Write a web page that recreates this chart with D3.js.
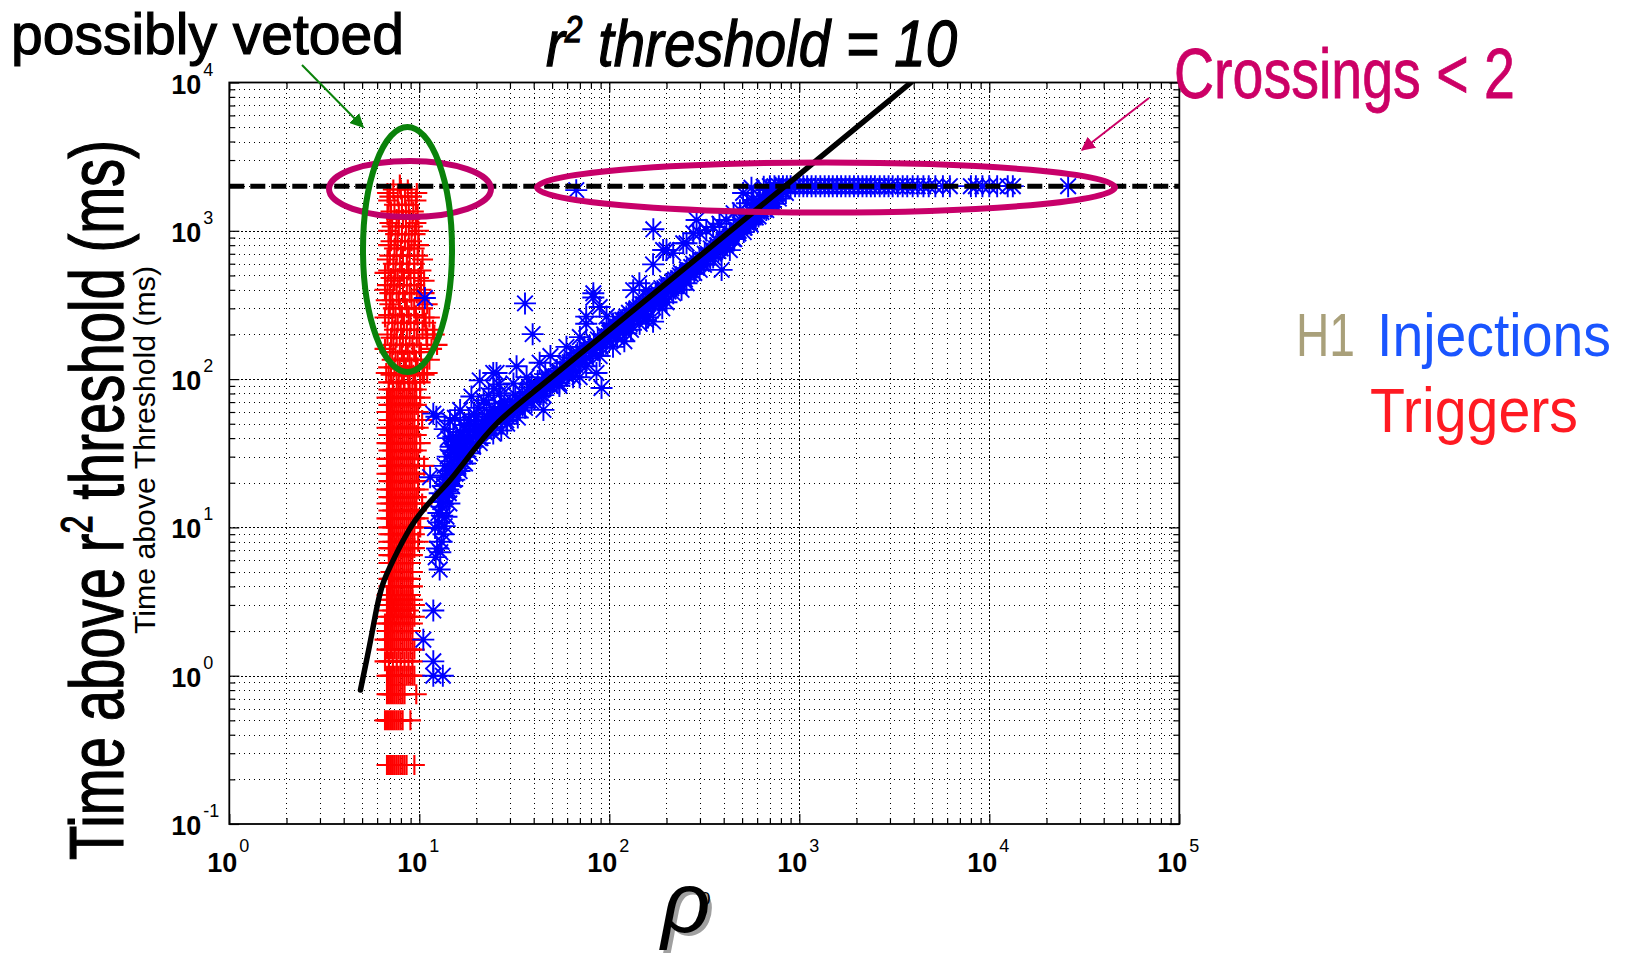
<!DOCTYPE html>
<html>
<head>
<meta charset="utf-8">
<script src="https://cdn.jsdelivr.net/npm/d3@7"></script>
<style>
  body { margin: 0; background: #fff; }
  text { font-family: "Liberation Sans Narrow", "Liberation Sans", Arial, sans-serif; }
</style>
</head>
<body>
<div id="chart"></div>
<script>
var svgWidth = 1628;
var svgHeight = 957;

var margin = { top: 82.5, right: 449, bottom: 133, left: 229.3 };
var width = 950;
var height = 741.5;

// ---- data (rho, time above threshold in ms) ----
var xExponents = [0, 1, 2, 3, 4, 5];
var yExponents = [-1, 0, 1, 2, 3, 4];
var saturationTime = 2000;

// black expected curve
var curveRho  = [4.9, 5.3, 5.6, 6.0, 6.4, 7.0, 7.8, 8.6, 9.5, 10.9, 12.5, 14.5, 18.5, 25.5, 40, 89, 300, 841, 3873];
var curveTime = [0.8, 1.3, 1.85, 3.0, 4.2, 5.4, 7.2, 9.1, 11.2, 14.0, 17.0, 20.5, 31, 52, 82, 190, 677, 2000, 10000];

// triggers: one time level per row, rho values of the triggers on that level
var triggerTime = [0.25, 0.5, 0.75, 1, 1.25, 1.5, 1.75, 2, 2.25, 2.5, 2.75, 3, 3.25, 3.5, 4, 4.5, 5, 5.75, 6.5, 7.25,
  8, 9, 10, 11.5, 13, 14.5, 16, 18, 20.5, 23, 26, 29, 33, 37, 42, 47, 53, 60, 67, 75, 85,
  95, 107, 120, 135, 152, 170, 190, 215, 240, 270, 300, 340, 380, 430, 480, 540, 600, 680, 760, 850, 950,
  1070, 1200, 1350, 1500, 1700, 1900, 2050,
  110, 160, 200, 260, 320, 400, 460, 520, 640, 800, 1000, 1130, 1280, 1600, 1800];
var triggerRho = [
  [6.76, 6.92, 7.09, 7.26, 7.43, 7.61, 7.79, 7.98, 8.17, 8.36, 8.57, 9.42],
  [6.6, 6.76, 6.92, 7.09, 7.26, 7.43, 7.61, 7.79, 7.98, 8.17, 8.98],
  [6.76, 6.92, 7.09, 7.26, 7.43, 7.61, 7.79, 7.98, 8.17, 8.36, 9.64],
  [6.76, 6.92, 7.09, 7.26, 7.43, 7.61, 7.79, 7.98, 8.17, 8.36, 8.57, 8.77, 8.98, 9.2, 9.42],
  [6.6, 6.92, 7.26, 7.61, 7.98, 8.36, 8.77, 9.2],
  [6.76, 7.09, 7.43, 7.79, 8.17, 8.57, 8.98, 9.42],
  [6.6, 6.92, 7.26, 7.61, 7.98, 8.36, 8.77, 9.2],
  [6.76, 7.09, 7.43, 7.79, 8.17, 8.57, 8.98],
  [6.6, 6.92, 7.26, 7.61, 7.98, 8.36, 8.77, 9.2],
  [6.76, 7.09, 7.43, 7.79, 8.17, 8.57, 8.98, 9.42],
  [6.92, 7.26, 7.61, 7.98, 8.36, 8.77],
  [6.76, 7.09, 7.43, 7.79, 8.17, 8.57, 8.98, 9.42],
  [6.92, 7.26, 7.61, 7.98, 8.36, 8.77, 9.2],
  [6.76, 7.09, 7.43, 7.79, 8.17, 8.57, 8.98],
  [6.92, 7.26, 7.61, 7.98, 8.36, 8.77, 9.2],
  [6.92, 7.09, 7.43, 7.79, 8.17, 8.57, 8.98],
  [7.09, 7.26, 7.61, 7.98, 8.36, 8.77, 9.2],
  [6.92, 7.09, 7.43, 7.79, 8.17, 8.57, 8.98],
  [6.92, 7.26, 7.61, 7.98, 8.36, 8.77, 9.2],
  [6.92, 7.09, 7.43, 7.79, 8.17, 8.57, 8.98, 9.42],
  [6.92, 7.26, 7.61, 7.98, 8.36, 8.77, 9.2, 9.87],
  [6.92, 7.09, 7.43, 7.79, 8.17, 8.57, 8.98, 9.42],
  [6.92, 7.26, 7.61, 7.98, 8.36, 8.77, 9.2, 10.11],
  [6.76, 7.09, 7.43, 7.79, 8.17, 8.57, 8.98, 9.42, 9.87],
  [6.92, 7.26, 7.61, 7.98, 8.36, 8.77, 9.2, 9.64],
  [6.76, 7.09, 7.43, 7.79, 8.17, 8.57, 8.98, 9.42, 10.35],
  [6.92, 7.26, 7.61, 7.98, 8.36, 8.77, 9.2, 9.64],
  [6.76, 7.09, 7.43, 7.79, 8.17, 8.57, 8.98, 9.42, 9.87],
  [6.92, 7.26, 7.61, 7.98, 8.36, 8.77, 9.2, 9.87],
  [6.76, 7.09, 7.43, 7.79, 8.17, 8.57, 8.98, 9.42, 9.64],
  [6.92, 7.26, 7.61, 7.98, 8.36, 8.77, 9.2, 10.6],
  [6.76, 7.09, 7.43, 7.79, 8.17, 8.57, 8.98, 9.42, 9.87],
  [6.92, 7.26, 7.61, 7.98, 8.36, 8.77, 9.2, 9.64],
  [6.76, 7.09, 7.43, 7.79, 8.17, 8.57, 8.98, 9.42, 10.11],
  [6.92, 7.26, 7.61, 7.98, 8.36, 8.77, 9.2, 9.64],
  [6.76, 7.09, 7.43, 7.79, 8.17, 8.57, 8.98, 9.42, 9.87],
  [6.92, 7.26, 7.61, 7.98, 8.36, 8.77, 9.2, 10.35],
  [6.76, 7.09, 7.43, 7.79, 8.17, 8.57, 8.98, 9.42, 9.87],
  [6.92, 7.26, 7.61, 7.98, 8.36, 8.77, 9.2, 9.64],
  [6.76, 7.09, 7.43, 7.79, 8.17, 8.57, 8.98, 9.42, 10.11],
  [6.92, 7.26, 7.61, 7.98, 8.36, 8.77, 9.2, 9.64],
  [6.9, 7.3, 7.8, 8.3, 8.9, 9.5, 10.1],
  [7.1, 7.6, 8.1, 8.7, 9.3, 10.6],
  [6.9, 7.4, 7.9, 8.5, 9.1, 9.8],
  [7.2, 7.7, 8.3, 8.9, 9.6, 11.3],
  [7.0, 7.5, 8.1, 8.7, 9.4, 10.2],
  [7.3, 7.9, 8.5, 9.2, 10.0, 12.4],
  [7.1, 7.6, 8.2, 8.9, 9.7, 11.0],
  [7.4, 8.0, 8.6, 9.4, 10.4, 11.8],
  [7.2, 7.7, 8.3, 9.0, 9.8, 10.8],
  [6.9, 7.5, 8.1, 8.8, 9.6],
  [7.3, 7.9, 8.6, 9.4, 10.4],
  [6.7, 7.2, 7.8, 8.4, 9.1, 10.0],
  [7.0, 7.6, 8.2, 8.9, 9.7, 10.6],
  [6.8, 7.3, 7.9, 8.6, 9.4],
  [7.1, 7.7, 8.3, 9.0, 9.9],
  [6.9, 7.5, 8.1, 8.8, 10.2],
  [7.3, 7.9, 8.6, 9.4],
  [7.0, 7.6, 8.2, 8.9, 9.8],
  [7.4, 8.0, 8.7, 9.4],
  [7.1, 7.7, 8.4, 9.1],
  [7.5, 8.1, 8.8, 9.5],
  [7.2, 7.8, 8.5, 9.2],
  [7.6, 8.2, 8.9],
  [7.1, 7.8, 8.5, 9.3],
  [7.4, 8.1, 8.8],
  [7.0, 7.7, 8.4, 9.1],
  [7.3, 8.0, 8.7],
  [7.9],
  [6.7, 10.4, 11.0],
  [6.6, 11.6],
  [6.8, 10.9, 12.0],
  [6.6, 10.6, 11.3],
  [7.0, 11.0],
  [6.6, 10.2],
  [7.4, 10.6],
  [6.6, 9.4],
  [6.8, 10.4],
  [6.9, 9.9],
  [6.9, 9.9],
  [7.0, 9.6],
  [6.8, 9.8],
  [6.9, 9.6],
  [6.8, 9.7]
];

// injections
var injectionRho = [
  11.85, 13.3, 11.85, 10.5, 11.85, 12.8, 13.1, 12.1, 13.9, 13.1, 12.6, 13.6, 12.4,
  12.2, 12.9, 13.4, 12.7, 13.2, 14.4, 12.9, 13.7,
  11.4, 13.3, 15.1, 14.2, 12.8, 13.8, 14.5, 13.6, 14.8, 14.2, 12.3, 14.5, 15.4, 11.85, 13.6, 15.1, 15.9,
  16.6, 15.7, 17.7, 20, 22.6, 26.6, 31.3, 36.7, 16.4, 18.8, 20.8, 24.5, 25.5, 32.5, 43, 15.1, 16.4, 18.5,
  20.8, 24.5, 28.7, 33.8, 43, 45, 54.6, 69.8, 85.6, 91, 17.2, 19.5, 22, 25, 28, 30, 35, 38, 40, 48,
  13.5, 14.0, 14.8, 15.5, 16.0, 16.8, 17.5, 15.2, 14.6, 16.2, 17.0, 18.0, 19.0, 18.5, 19.8, 21, 21.5, 22.5,
  23.5, 24, 26, 27, 29, 31, 32, 34, 37, 39, 42, 44, 46, 50, 53, 56, 58, 61, 63, 66, 68, 72, 74, 80, 83, 86,
  92, 94, 98, 102, 108, 112, 118, 125, 128, 135, 138, 146, 152, 158, 165, 172, 180, 185, 195, 205, 215,
  225, 235, 250, 265, 280, 295, 315, 325, 340, 365, 375, 395, 410, 430, 455, 480, 510, 530, 555, 590, 610,
  650, 670, 700, 730, 760, 780, 820, 850,
  49, 59.5, 70, 75.6, 82.4, 89, 96.7, 104.6, 123, 133.6, 144.5, 156, 133.6, 170, 192, 217, 255, 288, 170.5,
  299, 352, 413, 487, 571, 670,
  39.8, 54.6, 64.5, 75.6, 89, 104.6, 123, 144.5, 156, 170, 183, 217, 255, 299, 390, 352, 431, 431, 487,
  551, 647, 731,
  30, 35, 45, 52, 59.5, 65, 78, 110, 130, 160, 190, 230, 270, 330, 380, 440, 520, 600, 680, 720, 800,
  42, 47, 55, 62, 70, 85, 95, 100, 115, 120, 140, 150, 175, 200, 210, 245, 260, 290, 310, 350, 360, 400,
  420, 470, 500, 540, 560, 620, 640, 700, 760,
  110, 130, 160, 190, 120, 200, 240,
  36, 39.5, 10.7, 67, 75.6, 82.4, 144, 200, 245, 277, 324, 380, 451, 530, 620, 506, 573, 710, 560, 650, 750,
  27, 28, 29, 31, 33, 34, 36, 37, 39, 41, 43, 45, 47, 49, 51, 53, 57, 60, 62, 64, 67, 69, 73, 76, 79, 82,
  87, 90, 96, 99, 106, 111, 117, 122, 127, 133, 139, 143, 149, 155, 162, 168, 176, 182, 188, 196, 203, 212,
  222, 228, 238, 246, 256, 268, 276, 286, 298, 306, 318, 330, 342, 356, 370, 386, 400, 415, 432, 448, 462,
  478, 495, 515, 532, 550, 570, 590, 612, 632, 655, 675, 695, 715, 740, 770,
  13.2, 13.9, 14.3, 14.9, 15.3, 15.8, 16.3, 16.9, 17.4, 17.8, 18.4, 19.2, 19.9, 20.6, 21.4, 22.1, 23, 23.8,
  24.6, 25.4, 26.2, 14.1, 14.8, 15.6, 16.4, 17.2, 18.2, 19.4, 20.4, 21.8, 23.2, 24.7, 26.3
];
var injectionTime = [
  1.0, 1.0, 1.25, 1.75, 2.75, 5.2, 8.0, 9.9, 11.8, 13.8, 12.5, 10.2, 7.2,
  6.3, 6.8, 9, 10.8, 12, 14.5, 14.8, 17.5,
  21.8, 22.4, 20.9, 18, 17, 16, 24, 26, 28, 40, 55.7, 52.4, 54.8, 58.5, 46, 41, 36,
  34.9, 29.8, 45, 55.7, 68.5, 80.4, 93.5, 103, 61.8, 76.3, 98, 110, 110, 122, 129, 24.2, 26.9, 31.6,
  37, 43, 52.7, 61.8, 76.3, 62, 93.5, 103, 110, 87, 40, 48, 52, 62, 70, 66, 80, 88, 76, 100,
  19, 21, 22.5, 23, 25, 28, 30, 32, 35, 38, 42, 37, 41, 50, 45, 40, 50, 47,
  58, 52, 58, 65, 62, 70, 78, 72, 82, 92, 97, 84, 108, 96, 115, 108, 128, 112, 140, 125, 150, 140, 165, 150, 178, 162,
  180, 200, 188, 215, 200, 245, 228, 250, 235, 262, 290, 275, 320, 300, 345, 330, 380, 350, 410, 390, 455,
  430, 500, 470, 540, 520, 600, 590, 680, 650, 760, 730, 820, 800, 900, 880, 1000, 980, 1130, 1100, 1280, 1250,
  1420, 1380, 1560, 1520, 1700, 1650, 1850, 1800,
  143, 165, 192, 236, 355, 306, 264, 237, 264, 292, 306, 398, 398, 594, 742, 707, 824, 1183, 1024,
  962, 1061, 1183, 1376, 1614, 1884,
  76, 90, 103, 122, 143, 165, 204, 236, 250, 244, 322, 379, 443, 545, 545, 660, 741, 913, 1061,
  1254, 1449, 1614,
  57, 66, 90, 104, 117, 132, 157, 225, 270, 330, 395, 480, 570, 700, 830, 960, 1150, 1350, 1550, 1700, 1900,
  88, 92, 112, 122, 140, 170, 195, 205, 232, 250, 285, 300, 360, 420, 430, 510, 520, 610, 640, 740, 720, 870,
  880, 1020, 1080, 1200, 1250, 1420, 1500, 1620, 1800,
  190, 215, 260, 300, 180, 330, 400,
  324, 201, 352, 1880, 264, 379, 443, 742, 824, 962, 1010, 1115, 1314, 1534, 1700, 1800, 1534, 1450, 1950, 1980, 1950,
  45, 58, 50, 60, 55, 68, 64, 74, 70, 85, 80, 78, 98, 90, 100, 95, 120, 105, 130, 115, 145, 128, 150, 138, 168, 150,
  185, 165, 180, 215, 210, 225, 250, 230, 280, 255, 300, 270, 320, 290, 350, 320, 370, 340, 410, 380, 440, 410,
  470, 440, 520, 490, 550, 510, 600, 570, 650, 600, 700, 660, 760, 700, 800, 760, 850, 820, 950, 880, 1000,
  960, 1100, 1050, 1180, 1130, 1300, 1230, 1400, 1340, 1550, 1480, 1680, 1620, 1850, 1780,
  15, 19.5, 17, 19, 21, 26, 24, 31, 27, 34, 38, 35, 42, 40, 46, 44, 50, 47,
  56, 53, 61, 30, 33, 38, 44, 49, 53, 58, 64, 72, 78, 86, 92
];
// injections that hit the 2000 ms limit
var saturatedRho = [700, 740, 780, 820, 860, 900, 950, 1000, 1050, 1100, 1160, 1220, 1290, 1360, 1430, 1500,
  1580, 1660, 1750, 1840, 1940, 2040, 2150, 2260, 2380, 2500, 2650, 2800, 2950, 3100, 3300, 3500, 3700,
  3950, 4200, 4500, 4800, 5200, 5700, 6200, 8000, 8500, 9200, 10000, 11000, 12500, 13300, 26000];

// ---- svg ----
var svg = d3.select("#chart")
  .append("svg")
  .attr("width", svgWidth)
  .attr("height", svgHeight);

var chartGroup = svg.append("g")
  .attr("transform", `translate(${margin.left}, ${margin.top})`);

var xLogScale = d3.scaleLog().domain([1, 1e5]).range([0, width]);
var yLogScale = d3.scaleLog().domain([0.1, 1e4]).range([height, 0]);

var allX = xLogScale.ticks();
var allY = yLogScale.ticks();
function isMajor(v) { return Math.abs(Math.log10(v) - Math.round(Math.log10(v))) < 1e-9; }
function crisp(p, off) { return Math.round(p + off) - off + 0.5; }

// grid (dotted, MATLAB style)
var grid = chartGroup.append("g").attr("stroke", "#000").attr("stroke-width", 1)
  .attr("shape-rendering", "crispEdges");
grid.selectAll(".vgrid").data(allX.filter(v => v > 1 && v < 1e5)).enter()
  .append("line")
  .attr("x1", d => crisp(xLogScale(d), margin.left)).attr("x2", d => crisp(xLogScale(d), margin.left))
  .attr("y1", 0).attr("y2", height)
  .attr("stroke-dasharray", d => isMajor(d) ? "2,2" : "1,4");
grid.selectAll(".hgrid").data(allY.filter(v => v > 0.1 && v < 1e4)).enter()
  .append("line")
  .attr("y1", d => crisp(yLogScale(d), margin.top)).attr("y2", d => crisp(yLogScale(d), margin.top))
  .attr("x1", 0).attr("x2", width)
  .attr("stroke-dasharray", d => isMajor(d) ? "2,2" : "1,4");

// triggers (red +)
var triggers = [];
triggerTime.forEach(function(t, i) {
  triggerRho[i].forEach(function(r) { triggers.push({ rho: r, time: t }); });
});
chartGroup.append("g").selectAll("path").data(triggers).enter()
  .append("path")
  .attr("transform", d => `translate(${xLogScale(d.rho)}, ${yLogScale(d.time)})`)
  .attr("d", "M-10.5,0H10.5M0,-10V10")
  .attr("stroke", "#ff0000")
  .attr("stroke-width", 2.1)
  .attr("fill", "none");

// injections (blue *)
var injections = injectionRho.map((r, i) => ({ rho: r, time: injectionTime[i] }));
saturatedRho.forEach(r => injections.push({ rho: r, time: saturationTime }));
chartGroup.append("g").selectAll("path").data(injections).enter()
  .append("path")
  .attr("transform", d => `translate(${xLogScale(d.rho)}, ${yLogScale(d.time)})`)
  .attr("d", "M-11,0H11M0,-11V11M-7.8,-7.8L7.8,7.8M-7.8,7.8L7.8,-7.8")
  .attr("stroke", "#0000ff")
  .attr("stroke-width", 1.9)
  .attr("fill", "none");

// expected curve
svg.append("clipPath").attr("id", "plotClip")
  .append("rect").attr("width", width).attr("height", height);
var curveData = curveRho.map((r, i) => ({ rho: r, time: curveTime[i] }));
var line = d3.line()
  .x(d => xLogScale(d.rho))
  .y(d => yLogScale(d.time))
  .curve(d3.curveBasis);
chartGroup.append("path")
  .datum(curveData)
  .attr("clip-path", "url(#plotClip)")
  .attr("d", line)
  .attr("fill", "none")
  .attr("stroke", "#000")
  .attr("stroke-width", 5.5)
  .attr("stroke-linecap", "round");

// 2000 ms limit
chartGroup.append("line")
  .attr("x1", 0).attr("x2", width)
  .attr("y1", yLogScale(saturationTime)).attr("y2", yLogScale(saturationTime))
  .attr("stroke", "#000")
  .attr("stroke-width", 5)
  .attr("stroke-dasharray", "15,6");

// box + inward ticks on all sides
function tickAxis(axis, values, size, transform) {
  chartGroup.append("g")
    .attr("transform", transform)
    .call(axis.tickValues(values).tickSizeInner(size).tickSizeOuter(0).tickFormat(""))
    .call(g => g.select(".domain").remove())
    .call(g => g.selectAll(".tick line").attr("stroke", "#000").attr("stroke-width", 1.2));
}
var minorX = allX.filter(v => !isMajor(v)), majorX = allX.filter(isMajor);
var minorY = allY.filter(v => !isMajor(v)), majorY = allY.filter(isMajor);
tickAxis(d3.axisBottom(xLogScale), minorX, -6, `translate(0, ${height})`);
tickAxis(d3.axisBottom(xLogScale), majorX, -10, `translate(0, ${height})`);
tickAxis(d3.axisTop(xLogScale), minorX, -6, "translate(0, 0)");
tickAxis(d3.axisTop(xLogScale), majorX, -10, "translate(0, 0)");
tickAxis(d3.axisLeft(yLogScale), minorY, -6, "translate(0, 0)");
tickAxis(d3.axisLeft(yLogScale), majorY, -10, "translate(0, 0)");
tickAxis(d3.axisRight(yLogScale), minorY, -6, `translate(${width}, 0)`);
tickAxis(d3.axisRight(yLogScale), majorY, -10, `translate(${width}, 0)`);

chartGroup.append("rect")
  .attr("width", width).attr("height", height)
  .attr("fill", "none").attr("stroke", "#000").attr("stroke-width", 1.8);

// tick labels 10^n
var xLabels = chartGroup.append("g").selectAll("g").data(xExponents).enter().append("g")
  .attr("transform", d => `translate(${xLogScale(Math.pow(10, d))}, ${height})`);
xLabels.append("text").attr("x", 8).attr("y", 48).attr("text-anchor", "end")
  .attr("font-size", 27).attr("font-weight", "bold").text("10");
xLabels.append("text").attr("x", 10).attr("y", 28).attr("font-size", 18).text(d => d);

var yLabels = chartGroup.append("g").selectAll("g").data(yExponents).enter().append("g")
  .attr("transform", d => `translate(0, ${yLogScale(Math.pow(10, d))})`);
yLabels.append("text").attr("x", -28).attr("y", 11).attr("text-anchor", "end")
  .attr("font-size", 27).attr("font-weight", "bold").text("10");
yLabels.append("text").attr("x", -26).attr("y", -7).attr("font-size", 18).text(d => d);

// axis titles
var bigY = svg.append("text")
  .attr("transform", "translate(123, 500) rotate(-90)")
  .attr("text-anchor", "middle")
  .attr("font-size", 76)
  .attr("stroke", "#000").attr("stroke-width", 1.2)
  .attr("textLength", 720)
  .attr("lengthAdjust", "spacingAndGlyphs");
bigY.append("tspan").text("Time above r");
bigY.append("tspan").attr("dy", -31).attr("font-size", 44).text("2");
bigY.append("tspan").attr("dy", 31).text(" threshold (ms)");

svg.append("text")
  .attr("transform", "translate(155, 450) rotate(-90)")
  .attr("text-anchor", "middle")
  .attr("font-size", 30)
  .attr("textLength", 368)
  .attr("lengthAdjust", "spacingAndGlyphs")
  .text("Time above Threshold (ms)");

// x title: rho with grey drop shadow and a small 0
svg.append("text")
  .attr("x", 690).attr("y", 935)
  .attr("text-anchor", "middle")
  .attr("font-family", "Liberation Serif, serif")
  .attr("font-style", "italic")
  .attr("font-size", 86)
  .attr("fill", "#a0a0a0")
  .text("ρ");
svg.append("text")
  .attr("x", 686).attr("y", 932)
  .attr("text-anchor", "middle")
  .attr("font-family", "Liberation Serif, serif")
  .attr("font-style", "italic")
  .attr("font-size", 86)
  .text("ρ");
svg.append("text")
  .attr("x", 700).attr("y", 905)
  .attr("font-size", 19)
  .text("0");

// title
var title = svg.append("text")
  .attr("x", 546).attr("y", 66)
  .attr("font-style", "italic")
  .attr("font-size", 64)
  .attr("stroke", "#000").attr("stroke-width", 1.3)
  .attr("textLength", 411)
  .attr("lengthAdjust", "spacingAndGlyphs");
title.append("tspan").text("r");
title.append("tspan").attr("dy", -24).attr("font-size", 36).text("2");
title.append("tspan").attr("dy", 24).text(" threshold = 10");

// annotations
svg.append("text")
  .attr("x", 11).attr("y", 54)
  .attr("font-size", 58)
  .attr("stroke", "#000").attr("stroke-width", 1.2)
  .attr("textLength", 393)
  .attr("lengthAdjust", "spacingAndGlyphs")
  .text("possibly vetoed");

svg.append("text")
  .attr("x", 1174).attr("y", 98)
  .attr("font-size", 70)
  .attr("fill", "#cc0066")
  .attr("stroke", "#cc0066").attr("stroke-width", 0.8)
  .attr("textLength", 341)
  .attr("lengthAdjust", "spacingAndGlyphs")
  .text("Crossings < 2");

// right-hand labels, squeezed to the reference widths
var legendItems = [
  { label: "H1", x: 1296, y: 356, w: 59, color: "#a9a07a" },
  { label: "Injections", x: 1377, y: 356, w: 234, color: "#1a55ff" },
  { label: "Triggers", x: 1370, y: 432, w: 208, color: "#ff1a22" }
];
svg.append("g").selectAll("text").data(legendItems).enter()
  .append("text")
  .attr("font-size", 62)
  .attr("font-family", "DejaVu Sans, sans-serif")
  .attr("fill", d => d.color)
  .text(d => d.label)
  .attr("transform", function(d) {
    var natural = this.getComputedTextLength();
    return `translate(${d.x}, ${d.y}) scale(${d.w / natural}, 1)`;
  });

// ellipses
svg.append("ellipse").attr("cx", 826).attr("cy", 187.5).attr("rx", 289).attr("ry", 25)
  .attr("fill", "none").attr("stroke", "#c8006a").attr("stroke-width", 6);
svg.append("ellipse").attr("cx", 410).attr("cy", 189).attr("rx", 81).attr("ry", 28)
  .attr("fill", "none").attr("stroke", "#c0006a").attr("stroke-width", 6);
svg.append("ellipse").attr("cx", 407.5).attr("cy", 249.5).attr("rx", 44.5).attr("ry", 122.5)
  .attr("fill", "none").attr("stroke", "#0a820a").attr("stroke-width", 6);

// arrows
var defs = svg.append("defs");
function arrowHead(id, color) {
  defs.append("marker").attr("id", id)
    .attr("viewBox", "0 0 10 10").attr("refX", 9).attr("refY", 5)
    .attr("markerWidth", 7).attr("markerHeight", 7).attr("orient", "auto")
    .append("path").attr("d", "M0,0L10,5L0,10Z").attr("fill", color);
}
arrowHead("greenHead", "#0a820a");
arrowHead("pinkHead", "#cc0066");
svg.append("line").attr("x1", 302).attr("y1", 65).attr("x2", 363).attr("y2", 127)
  .attr("stroke", "#0a820a").attr("stroke-width", 2).attr("marker-end", "url(#greenHead)");
svg.append("line").attr("x1", 1149).attr("y1", 98).attr("x2", 1082).attr("y2", 150)
  .attr("stroke", "#cc0066").attr("stroke-width", 2).attr("marker-end", "url(#pinkHead)");
</script>
</body>
</html>
